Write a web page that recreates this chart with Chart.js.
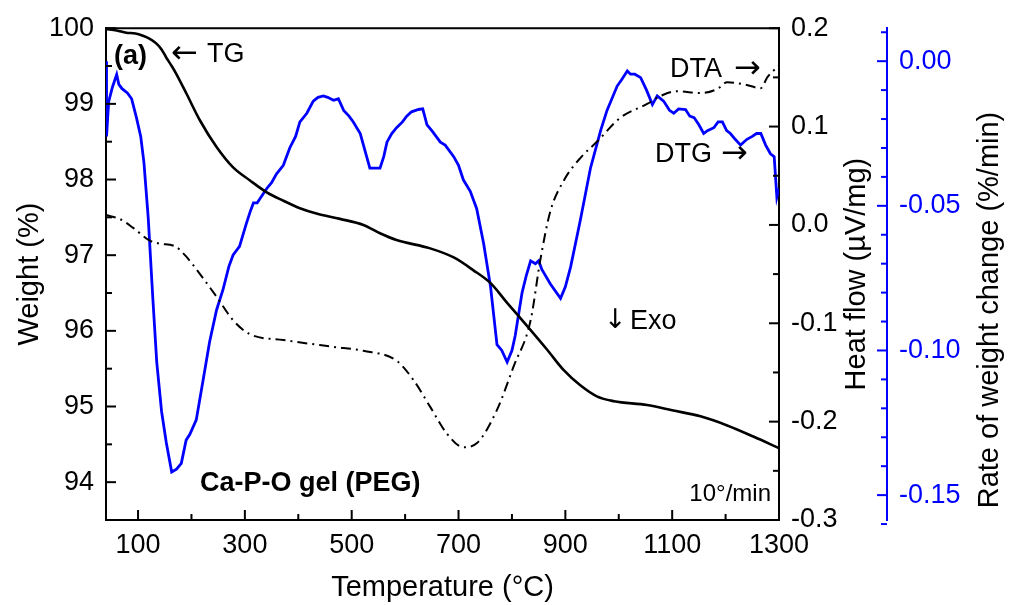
<!DOCTYPE html>
<html>
<head>
<meta charset="utf-8">
<script src="https://cdn.jsdelivr.net/npm/chart.js@4.4.1/dist/chart.umd.min.js"></script>
<style>
  body { margin: 0; background: #fff; }
</style>
</head>
<body>
<canvas id="tga" width="1009" height="605"></canvas>
<script>
// temperature ticks and axis ticks
const xTicks = [100, 300, 500, 700, 900, 1100, 1300];
const xMinor = [200, 400, 600, 800, 1000, 1200];
const weightTicks = [94, 95, 96, 97, 98, 99, 100];
const weightMinor = [94.5, 95.5, 96.5, 97.5, 98.5, 99.5];
const heatTicks = [-0.3, -0.2, -0.1, 0.0, 0.1, 0.2];
const heatMinor = [-0.25, -0.15, -0.05, 0.05, 0.15];
const rateTicks = [-0.15, -0.10, -0.05, 0.00];
const rateMinor = [-0.16, -0.14, -0.13, -0.12, -0.11, -0.09, -0.08, -0.07, -0.06, -0.04, -0.03, -0.02, -0.01, 0.01];

// TG: weight (%)
const tgTemp = [40, 60, 78, 95, 109, 122, 134, 144, 153, 163, 172, 191, 216, 247, 278, 309, 341, 372, 403, 434, 478, 522, 553, 584, 647, 691, 728, 760, 791, 835, 866, 897, 928, 960, 991, 1053, 1100, 1153, 1203, 1253, 1300];
const tgWeight = [99.99, 99.97, 99.94, 99.93, 99.9, 99.86, 99.8, 99.72, 99.61, 99.5, 99.39, 99.13, 98.78, 98.43, 98.16, 97.99, 97.83, 97.72, 97.62, 97.55, 97.48, 97.4, 97.29, 97.2, 97.09, 96.97, 96.8, 96.63, 96.37, 96.01, 95.75, 95.48, 95.28, 95.13, 95.07, 95.02, 94.95, 94.87, 94.75, 94.6, 94.45];

// DTA: heat flow (uV/mg)
const dtaTemp = [40, 66, 91, 122, 140, 170, 190, 216, 247, 278, 309, 372, 466, 522, 584, 616, 647, 678, 709, 734, 772, 803, 835, 853, 872, 897, 928, 960, 1003, 1053, 1078, 1109, 1153, 1184, 1203, 1234, 1266, 1278, 1300];
const dtaHeat = [0.01, 0.006, -0.003, -0.016, -0.019, -0.022, -0.032, -0.05, -0.073, -0.097, -0.111, -0.117, -0.124, -0.128, -0.138, -0.158, -0.185, -0.212, -0.226, -0.222, -0.188, -0.144, -0.097, -0.036, 0.014, 0.045, 0.068, 0.085, 0.109, 0.123, 0.131, 0.136, 0.134, 0.138, 0.145, 0.143, 0.139, 0.15, 0.162];

// DTG: rate of weight change (%/min)
const dtgTemp = [40, 41, 45, 52, 60, 64, 70, 80, 88, 97, 105, 111, 119, 128, 135, 144, 153, 163, 172, 181, 190, 197, 209, 222, 234, 247, 259, 270, 278, 290, 303, 310, 316, 323, 330, 341, 350, 359, 372, 384, 395, 403, 416, 428, 437, 447, 455, 466, 475, 485, 495, 503, 516, 528, 534, 541, 553, 560, 566, 575, 584, 595, 603, 612, 625, 633, 641, 650, 666, 675, 691, 700, 709, 722, 734, 747, 760, 772, 781, 791, 800, 806, 819, 827, 835, 844, 850, 856, 872, 891, 900, 910, 928, 947, 966, 978, 997, 1005, 1016, 1022, 1030, 1041, 1052, 1063, 1072, 1084, 1095, 1103, 1112, 1125, 1133, 1141, 1150, 1159, 1166, 1178, 1186, 1194, 1202, 1209, 1218, 1228, 1240, 1250, 1258, 1266, 1275, 1284, 1291, 1296, 1300];
const dtgRate = [0.0, -0.026, -0.014, -0.009, -0.0046, -0.008, -0.0095, -0.011, -0.013, -0.0195, -0.026, -0.035, -0.054, -0.083, -0.104, -0.121, -0.132, -0.142, -0.141, -0.139, -0.131, -0.129, -0.124, -0.11, -0.097, -0.086, -0.079, -0.071, -0.067, -0.064, -0.056, -0.052, -0.049, -0.049, -0.047, -0.044, -0.042, -0.039, -0.036, -0.03, -0.026, -0.021, -0.018, -0.0138, -0.0125, -0.012, -0.0125, -0.0135, -0.013, -0.017, -0.019, -0.021, -0.025, -0.033, -0.037, -0.037, -0.037, -0.033, -0.028, -0.025, -0.023, -0.021, -0.019, -0.0175, -0.0167, -0.0165, -0.022, -0.024, -0.028, -0.029, -0.033, -0.036, -0.041, -0.045, -0.051, -0.063, -0.078, -0.098, -0.1, -0.104, -0.1, -0.095, -0.08, -0.074, -0.069, -0.07, -0.069, -0.072, -0.077, -0.082, -0.078, -0.071, -0.055, -0.037, -0.024, -0.017, -0.0086, -0.0065, -0.0034, -0.0045, -0.0045, -0.0057, -0.01, -0.015, -0.012, -0.0138, -0.017, -0.018, -0.0165, -0.0167, -0.019, -0.0195, -0.022, -0.025, -0.024, -0.023, -0.021, -0.021, -0.024, -0.025, -0.027, -0.029, -0.027, -0.026, -0.025, -0.025, -0.029, -0.032, -0.033, -0.047, -0.044];

const FONT = '"Liberation Sans", Arial, sans-serif';
const ARROW_FONT = '"DejaVu Sans", sans-serif';
const BLUE = '#0000ff';

const pts = (xs, ys) => xs.map((x, i) => ({ x: x, y: ys[i] }));
const setTicks = list => scale => { scale.ticks = list.map(v => ({ value: v })); };

const decor = {
    id: 'decor',
    afterDraw(chart) {
        const ctx = chart.ctx;
        const a = chart.chartArea;
        const s = chart.scales;
        ctx.save();
        ctx.lineCap = 'butt';
        // top frame line
        ctx.strokeStyle = '#000';
        ctx.lineWidth = 2;
        ctx.beginPath();
        ctx.moveTo(a.left - 1, a.top);
        ctx.lineTo(a.right + 1, a.top);
        ctx.stroke();

        const hTicks = (vals, len) => {
            vals.forEach(v => {
                const px = s.x.getPixelForValue(v);
                ctx.beginPath();
                ctx.moveTo(px, a.bottom);
                ctx.lineTo(px, a.bottom - len);
                ctx.stroke();
            });
        };
        const vTicks = (scale, vals, x0, len) => {
            vals.forEach(v => {
                const py = scale.getPixelForValue(v);
                ctx.beginPath();
                ctx.moveTo(x0, py);
                ctx.lineTo(x0 + len, py);
                ctx.stroke();
            });
        };
        hTicks(xTicks, 10);
        hTicks(xMinor, 6);
        vTicks(s.yW, weightTicks, a.left, 10);
        vTicks(s.yW, weightMinor, a.left, 6);
        vTicks(s.yH, heatTicks, a.right, -10);
        vTicks(s.yH, heatMinor, a.right, -6);
        ctx.strokeStyle = BLUE;
        vTicks(s.yR, rateTicks, s.yR.left, -10);
        vTicks(s.yR, rateMinor, s.yR.left, -6);

        // right axis titles (reading bottom to top)
        ctx.fillStyle = '#000';
        ctx.textAlign = 'center';
        ctx.textBaseline = 'middle';
        ctx.font = '29px ' + FONT;
        ctx.save();
        ctx.translate(857, (a.top + a.bottom) / 2);
        ctx.rotate(-Math.PI / 2);
        ctx.fillText('Heat flow (\u00b5V/mg)', 0, 0);
        ctx.restore();
        ctx.save();
        ctx.translate(990, 310);
        ctx.rotate(-Math.PI / 2);
        ctx.fillText('Rate of weight change (%/min)', 0, 0);
        ctx.restore();

        // annotations
        ctx.textAlign = 'left';
        ctx.font = 'bold 27px ' + FONT;
        ctx.fillText('(a)', 114, 57);
        ctx.fillText('Ca-P-O gel (PEG)', 200, 484);
        ctx.font = '27px ' + FONT;
        ctx.fillText('TG', 207, 55);
        ctx.fillText('Exo', 630, 322);
        ctx.fillText('DTA', 670, 70);
        ctx.fillText('DTG', 655, 155);
        ctx.font = '32px ' + ARROW_FONT;
        ctx.fillText('\u2190', 171, 55);
        ctx.fillText('\u2192', 734, 70);
        ctx.fillText('\u2192', 721, 155);
        ctx.font = '27px ' + ARROW_FONT;
        ctx.fillText('\u2193', 604, 321);
        ctx.textAlign = 'right';
        ctx.font = '24px ' + FONT;
        ctx.fillText('10\u00b0/min', 771, 494);
        ctx.restore();
    }
};

new Chart(document.getElementById('tga'), {
    type: 'line',
    data: {
        datasets: [
            {
                label: 'TG',
                data: pts(tgTemp, tgWeight),
                yAxisID: 'yW',
                borderColor: '#000',
                borderWidth: 2.6,
                pointRadius: 0,
                cubicInterpolationMode: 'monotone'
            },
            {
                label: 'DTA',
                data: pts(dtaTemp, dtaHeat),
                yAxisID: 'yH',
                borderColor: '#000',
                borderWidth: 2,
                borderDash: [10, 5, 2, 5],
                pointRadius: 0,
                cubicInterpolationMode: 'monotone'
            },
            {
                label: 'DTG',
                data: pts(dtgTemp, dtgRate),
                yAxisID: 'yR',
                borderColor: BLUE,
                borderWidth: 2.8,
                pointRadius: 0,
                tension: 0
            }
        ]
    },
    options: {
        responsive: false,
        animation: false,
        devicePixelRatio: 1,
        layout: { padding: { top: 27, right: 0, bottom: 0, left: 0 } },
        plugins: {
            legend: { display: false },
            tooltip: { enabled: false }
        },
        scales: {
            x: {
                type: 'linear',
                min: 40,
                max: 1300,
                afterBuildTicks: setTicks(xTicks),
                afterFit: sc => { sc.height = 85; },
                grid: { display: false, drawTicks: false },
                border: { display: true, color: '#000', width: 2 },
                ticks: { color: '#000', padding: 9, maxRotation: 0, font: { family: FONT, size: 27 }, callback: v => String(v) },
                title: { display: true, text: 'Temperature (\u00b0C)', color: '#000', padding: { top: 0, bottom: 0 }, font: { family: FONT, size: 29 } }
            },
            yW: {
                type: 'linear',
                position: 'left',
                min: 93.5,
                max: 100,
                afterBuildTicks: setTicks(weightTicks),
                afterFit: sc => { sc.width = 106; },
                grid: { display: false, drawTicks: false },
                border: { display: true, color: '#000', width: 2 },
                ticks: { color: '#000', padding: 12, font: { family: FONT, size: 27 }, callback: v => String(v) },
                title: { display: true, text: 'Weight (%)', color: '#000', padding: { top: 13, bottom: 0 }, font: { family: FONT, size: 29 } }
            },
            yH: {
                type: 'linear',
                position: 'right',
                min: -0.3,
                max: 0.2,
                afterBuildTicks: setTicks(heatTicks),
                afterFit: sc => { sc.width = 108; },
                grid: { display: false, drawTicks: false },
                border: { display: true, color: '#000', width: 2 },
                ticks: { color: '#000', padding: 12, font: { family: FONT, size: 27 }, callback: v => v.toFixed(1) }
            },
            yR: {
                type: 'linear',
                position: 'right',
                min: -0.1586,
                max: 0.0114,
                afterBuildTicks: setTicks(rateTicks),
                afterFit: sc => { sc.width = 122; },
                grid: { display: false, drawTicks: false },
                border: { display: true, color: BLUE, width: 2 },
                ticks: { color: BLUE, padding: 12, font: { family: FONT, size: 27 }, callback: v => v.toFixed(2) }
            }
        }
    },
    plugins: [decor]
});
</script>
</body>
</html>
